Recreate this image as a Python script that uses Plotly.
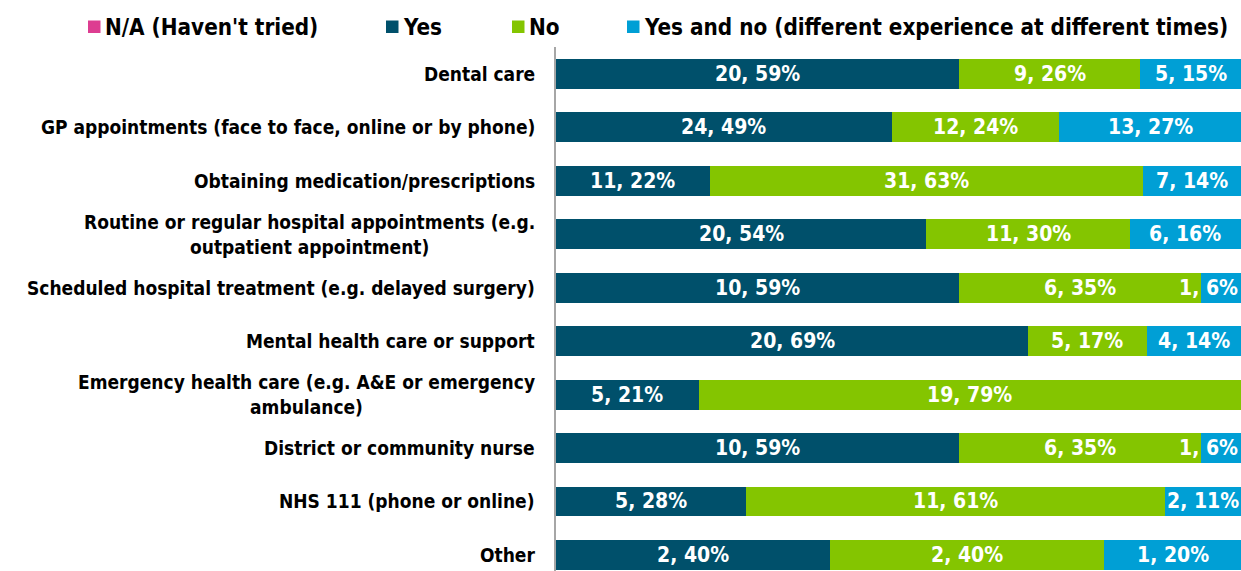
import plotly.graph_objects as go

# Survey responses: counts per service, by answer
categories = [
    "Dental care",
    "GP appointments (face to face, online or by phone)",
    "Obtaining medication/prescriptions",
    "Routine or regular hospital appointments (e.g.<br>outpatient appointment)",
    "Scheduled hospital treatment (e.g. delayed surgery)",
    "Mental health care or support",
    "Emergency health care (e.g. A&E or emergency<br>ambulance)",
    "District or community nurse",
    "NHS 111 (phone or online)",
    "Other",
]
na_counts = [0, 0, 0, 0, 0, 0, 0, 0, 0, 0]
yes_counts = [20, 24, 11, 20, 10, 20, 5, 10, 5, 2]
no_counts = [9, 12, 31, 11, 6, 5, 19, 6, 11, 2]
mixed_counts = [5, 13, 7, 6, 1, 4, 0, 1, 2, 1]

series_names = [
    "N/A (Haven't tried)",
    "Yes",
    "No",
    "Yes and no (different experience at different times)",
]
series_counts = [na_counts, yes_counts, no_counts, mixed_counts]
series_colors = ["#DD3D91", "#00506B", "#84C500", "#009FD5"]

totals = [sum(vals) for vals in zip(*series_counts)]

W, H = 1241, 571
PLOT_L, PLOT_T = 556, 47
PLOT_W, PLOT_H = W - PLOT_L, H - PLOT_T

FONT = "DejaVu Sans Condensed, DejaVu Sans, sans-serif"
VALUE_SIZE = 21


def px_x(px):
    return (px - PLOT_L) / PLOT_W


def px_y(py):
    return (H - py) / PLOT_H


def pct(count, total):
    return 100 * count / total


def label(count, total):
    if count == 0:
        return ""
    return f"{count}, {int(pct(count, total) + 0.5)}%"


def approx_width_pct(text):
    # rough rendered width of a value label, in axis percent units
    return len(text) * VALUE_SIZE * 0.57 / PLOT_W * 100


ypos = list(range(len(categories)))

fig = go.Figure()
for name, counts, color in zip(series_names, series_counts, series_colors):
    fig.add_trace(go.Bar(
        name=name,
        y=ypos,
        x=counts,
        orientation="h",
        width=0.56,
        marker=dict(color=color, line=dict(width=0)),
        showlegend=False,
        hoverinfo="name+x",
    ))

annotations = []

# Value labels centred on each segment (kept inside the plot at the right edge)
for i in ypos:
    start = 0.0
    for counts in series_counts:
        share = pct(counts[i], totals[i])
        text = label(counts[i], totals[i])
        if text:
            mid = start + share / 2
            half = approx_width_pct(text) / 2
            if mid + half > 100:
                ann = dict(x=100, xanchor="right", xshift=-1)
            else:
                ann = dict(x=mid, xanchor="center")
            ann.update(
                xref="x", y=i, yref="y", text=text, showarrow=False,
                yanchor="middle",
                font=dict(family=FONT, size=VALUE_SIZE, color="white",
                          weight="bold"),
            )
            annotations.append(ann)
        start += share

# Category labels, centred line by line and right-aligned to the axis
for i, cat in enumerate(categories):
    annotations.append(dict(
        x=0, xref="paper", y=i, yref="y",
        text=cat, showarrow=False,
        xanchor="right", yanchor="middle", align="center",
        xshift=-19,
        font=dict(family=FONT, size=19, color="#000000", weight="bold"),
    ))

# Legend row along the top
legend_swatch_px = [88, 386, 512, 627]
shapes = []
for name, color, sx in zip(series_names, series_colors, legend_swatch_px):
    shapes.append(dict(
        type="rect", xref="paper", yref="paper",
        x0=px_x(sx), x1=px_x(sx + 12.5),
        y0=px_y(33), y1=px_y(20.5),
        fillcolor=color, line=dict(width=0),
    ))
    annotations.append(dict(
        x=px_x(sx + 15), xref="paper", y=px_y(27), yref="paper",
        text=name, showarrow=False,
        xanchor="left", yanchor="middle",
        font=dict(family=FONT, size=22.3, color="#000000", weight="bold"),
    ))

fig.update_layout(
    width=W, height=H,
    barmode="stack",
    barnorm="percent",
    margin=dict(l=PLOT_L, r=0, t=PLOT_T, b=0, pad=0),
    paper_bgcolor="white",
    plot_bgcolor="white",
    xaxis=dict(range=[0, 100], showgrid=False, zeroline=False,
               showticklabels=False, showline=False, fixedrange=True),
    yaxis=dict(range=[9.30, -0.5], showgrid=False, zeroline=False,
               showticklabels=False, showline=True, linecolor="#A6A6A6",
               linewidth=2, ticks="", fixedrange=True),
    annotations=annotations,
    shapes=shapes,
    showlegend=False,
)

fig.write_html("out.html")
